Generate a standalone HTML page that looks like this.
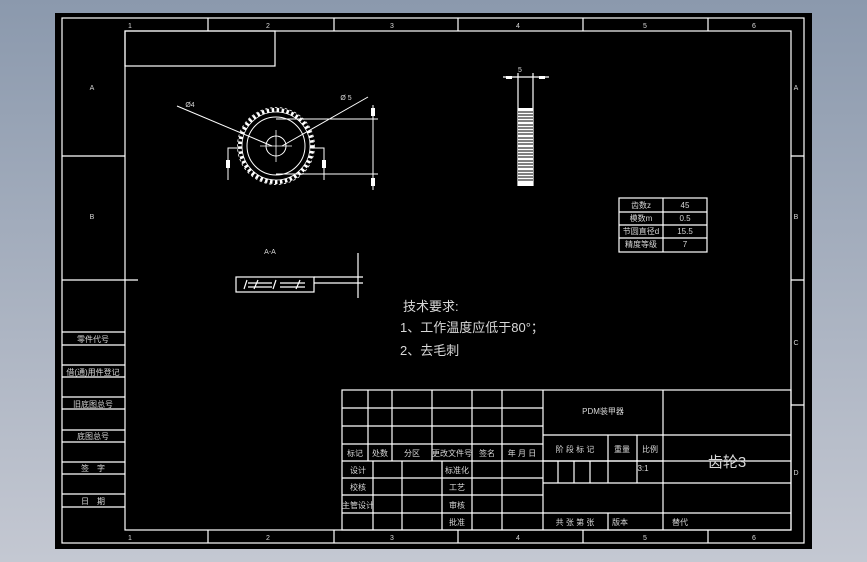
<!DOCTYPE html>
<html><head><meta charset="utf-8"><style>
html,body{margin:0;padding:0;width:867px;height:562px;overflow:hidden;background:linear-gradient(#8b99ad,#c4c8d2);}
svg{position:absolute;left:0;top:0}
text{font-family:"Liberation Sans","Noto Sans CJK SC",sans-serif;fill:#d8d8d8}
</style></head><body>
<svg width="867" height="562" viewBox="0 0 867 562">
<rect x="55" y="13" width="757" height="536" fill="#000"/>
<g stroke="#fff" stroke-width="1.2" fill="none">
<rect x="62" y="18" width="742" height="525"/>
<rect x="125" y="31" width="666" height="499"/>
<rect x="125" y="31" width="150" height="35"/>
<path d="M208 18V31M334 18V31M458 18V31M583 18V31M708 18V31"/>
<path d="M208 530V543M334 530V543M458 530V543M583 530V543M708 530V543"/>
<path d="M62 156H125M62 280H138M791 156H804M791 280H804M791 405H804"/>
<path d="M62 332H125M62 345H125M62 365H125M62 377H125M62 397H125M62 409H125M62 430H125M62 442H125M62 462H125M62 474H125M62 494H125M62 507H125"/>
<!-- title block -->
<rect x="342" y="390" width="449" height="140"/>
<path d="M342 408H543M342 426H543M342 444H543M342 461H791M342 478H543M342 495H543M342 513H791"/>
<path d="M368 390V461M392 390V461M432 390V461M472 390V461M502 390V461M543 390V530"/>
<path d="M373 461V530M402 461V530M442 461V530M472 461V530M502 461V530"/>
<path d="M663 390V530M543 435H791M543 483H791M608 435V483M637 435V483M558 461V483M574 461V483M590 461V483M543 461H663M608 513V530"/>
<!-- param table -->
<rect x="619" y="198" width="88" height="54"/>
<path d="M619 212H707M619 225H707M619 238H707M663 198V252"/>
<!-- gear -->
<circle cx="276" cy="146" r="36" stroke-width="4" stroke-dasharray="2.5 2.5"/>
<circle cx="276" cy="146" r="38.5" stroke-width="0.8" stroke-dasharray="2.5 2.5"/>
<circle cx="276" cy="146" r="34" stroke-width="0.8"/>
<circle cx="276" cy="146" r="29" stroke-width="1"/>
<circle cx="276" cy="146" r="10" stroke-width="1"/>
<path d="M276 130V162M260 146H292" stroke-width="0.8"/>
<path d="M177 106L272 146M368 97L282 146" stroke-width="1"/>
<path d="M276 119H378M276 174H378M373 105V190" stroke-width="1"/>
<path d="M238 148H228V180M314 148H324V180" stroke-width="1"/>
<!-- side view -->
<path d="M503 77H549M518 73V186M533 73V186"/>
<!-- section -->
<rect x="236" y="277" width="78" height="15"/>
<path d="M314 277H363M314 283H363M358 253V298M247 280L244 289M258 280L254 289M276 280L273 289M300 280L296 289M248 283H272M280 283H305M248 287H272M280 287H305"/>
</g>
<rect x="518" y="108" width="15" height="78" fill="#fff"/>
<g stroke="#000" stroke-width="1">
<path d="M518 112H533M518 115H533M518 118H533M518 121H533M518 125H533M518 128H533M518 131H533M518 134H533M518 138H533M518 141H533M518 144H533M518 148H533M518 151H533M518 154H533M518 157H533M518 161H533M518 164H533M518 167H533M518 171H533M518 174H533M518 177H533M518 180H533"/>
</g>
<g fill="#fff"><rect x="226" y="160" width="4" height="8"/><rect x="322" y="160" width="4" height="8"/><rect x="371" y="108" width="4" height="8"/><rect x="371" y="178" width="4" height="8"/><rect x="506" y="76" width="6" height="3"/><rect x="539" y="76" width="6" height="3"/></g>
<g font-size="7" text-anchor="middle">
<text x="130" y="28">1</text><text x="268" y="28">2</text><text x="392" y="28">3</text><text x="518" y="28">4</text><text x="645" y="28">5</text><text x="754" y="28">6</text>
<text x="130" y="540">1</text><text x="268" y="540">2</text><text x="392" y="540">3</text><text x="518" y="540">4</text><text x="645" y="540">5</text><text x="754" y="540">6</text>
<text x="92" y="90">A</text><text x="92" y="219">B</text><text x="796" y="90">A</text><text x="796" y="219">B</text><text x="796" y="345">C</text><text x="796" y="475">D</text>
<text x="520" y="72">5</text><text x="270" y="254">A-A</text><text x="190" y="107">Ø4</text><text x="346" y="100">Ø 5</text>
</g>
<g font-size="8" text-anchor="middle">
<text x="93" y="342">零件代号</text><text x="93" y="375">借(通)用件登记</text><text x="93" y="407">旧底图总号</text><text x="93" y="439">底图总号</text><text x="93" y="471">签　字</text><text x="93" y="504">日　期</text>
<text x="355" y="456">标记</text><text x="380" y="456">处数</text><text x="412" y="456">分区</text><text x="452" y="456">更改文件号</text><text x="487" y="456">签名</text><text x="522" y="456">年 月 日</text>
<text x="358" y="473">设计</text><text x="358" y="490">校核</text><text x="358" y="508">主管设计</text>
<text x="457" y="473">标准化</text><text x="457" y="490">工艺</text><text x="457" y="508">审核</text><text x="457" y="525">批准</text>
<text x="575" y="452">阶 段 标 记</text><text x="622" y="452">重量</text><text x="650" y="452">比例</text><text x="643" y="471">3:1</text>
<text x="575" y="525">共 张 第 张</text><text x="620" y="525">版本</text><text x="680" y="525">替代</text>
<text x="603" y="414">PDM装甲器</text>
<text x="641" y="208">齿数z</text><text x="685" y="208">45</text>
<text x="641" y="221">模数m</text><text x="685" y="221">0.5</text>
<text x="641" y="234">节圆直径d</text><text x="685" y="234">15.5</text>
<text x="641" y="247">精度等级</text><text x="685" y="247">7</text>
</g>
<text x="727" y="467" font-size="15" text-anchor="middle">齿轮3</text>
<g font-size="13"><text x="403" y="311">技术要求:</text><text x="400" y="332">1、工作温度应低于80°；</text><text x="400" y="355">2、去毛刺</text></g>
</svg>
</body></html>
